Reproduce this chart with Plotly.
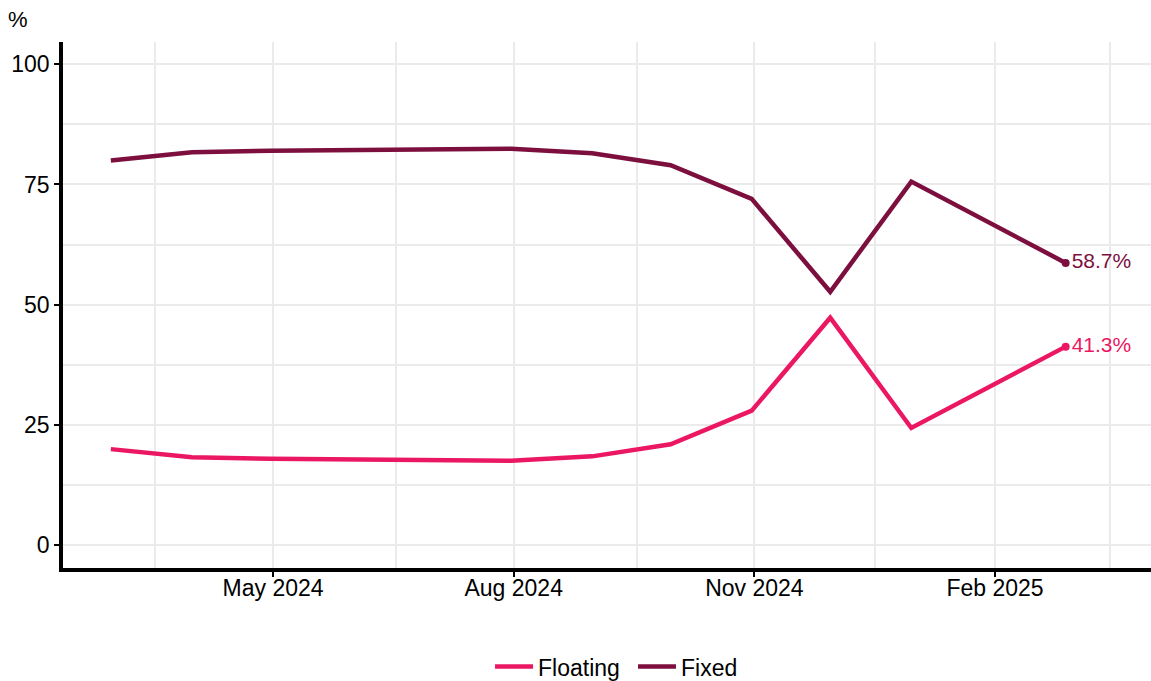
import plotly.graph_objects as go

# ---- data ----
dates = ["2024-02-29", "2024-03-31", "2024-04-30", "2024-05-31", "2024-06-30",
         "2024-07-31", "2024-08-31", "2024-09-30", "2024-10-31", "2024-11-30",
         "2024-12-31", "2025-02-28"]
floating = [20.0, 18.3, 18.0, 17.8, 17.7, 17.6, 18.5, 21.0, 28.0, 47.3, 24.4, 41.3]
fixed = [80.0, 81.7, 82.0, 82.2, 82.3, 82.4, 81.5, 79.0, 72.0, 52.7, 75.6, 58.7]
series_names = ["Floating", "Fixed"]
y_tick_values = [0, 25, 50, 75, 100]
y_unit_label = "%"

# ---- styles ----
COLORS = {"Floating": "#EB1763", "Fixed": "#7D0F3E"}
FONT = "Liberation Sans, Arial, sans-serif"
GRID = "#EBEBEB"

fig = go.Figure()
series = {"Floating": floating, "Fixed": fixed}
for name in series_names:
    vals = series[name]
    fig.add_trace(go.Scatter(
        x=dates, y=vals, mode="lines", name=name,
        line=dict(color=COLORS[name], width=4.5),
    ))
for name in series_names:
    vals = series[name]
    fig.add_trace(go.Scatter(
        x=[dates[-1]], y=[vals[-1]], mode="markers+text",
        text=[f"{vals[-1]:.1f}%"], textposition="middle right",
        textfont=dict(color=COLORS[name], size=21, family=FONT),
        marker=dict(color=COLORS[name], size=8),
        showlegend=False, cliponaxis=False,
    ))

fig.update_layout(
    width=1151, height=681,
    margin=dict(l=63, r=0, t=42, b=113, autoexpand=False),
    paper_bgcolor="white", plot_bgcolor="white",
    font=dict(family=FONT, size=23, color="black"),
    legend=dict(orientation="h", x=0.3925, xanchor="left", y=-0.1875,
                yanchor="middle", font=dict(size=23), itemwidth=38,
                entrywidth=90),
    annotations=[dict(text=y_unit_label, xref="paper", yref="paper",
                      x=-0.052, y=1.042, xanchor="left", yanchor="middle",
                      showarrow=False, font=dict(size=22))],
)
fig.update_xaxes(
    type="date", range=["2024-02-10 17:00", "2025-04-01 15:00"],
    tick0="2024-02-01", dtick="M3", tickformat="%b %Y",
    showgrid=True, gridcolor=GRID, gridwidth=1.5,
    minor=dict(tick0="2024-03-17", dtick="M3", showgrid=True,
               gridcolor=GRID, gridwidth=1.5),
    showline=True, linecolor="black", linewidth=3.5,
    ticks="outside", ticklen=5, tickwidth=2, tickcolor="black",
    zeroline=False, tickfont=dict(size=23), ticklabelstandoff=-8,
)
fig.update_yaxes(
    range=[-4.7, 104.6], tickvals=y_tick_values,
    showgrid=True, gridcolor=GRID, gridwidth=1.5,
    minor=dict(tick0=12.5, dtick=25, showgrid=True,
               gridcolor=GRID, gridwidth=1.5),
    showline=True, linecolor="black", linewidth=3.5,
    ticks="outside", ticklen=5, tickwidth=2, tickcolor="black",
    zeroline=False, tickfont=dict(size=23),
)

fig.write_html("out.html")
